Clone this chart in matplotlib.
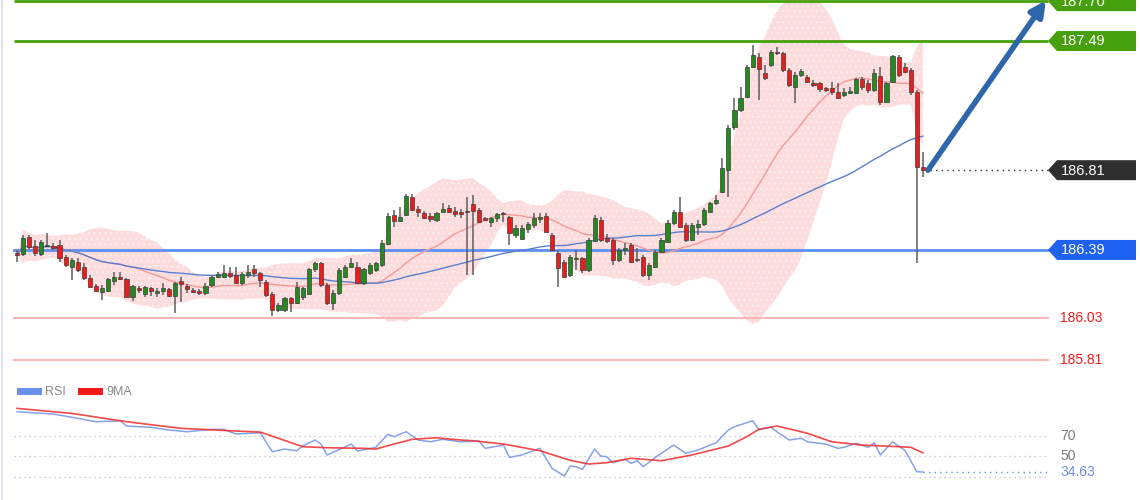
import numpy as np
import pandas as pd
import matplotlib
matplotlib.use("Agg")
import matplotlib.pyplot as plt
from matplotlib.patches import Polygon
from matplotlib.lines import Line2D

plt.rcParams["font.family"] = ["Liberation Sans", "DejaVu Sans"]
plt.rcParams["hatch.linewidth"] = 0.45

# ---- price candles (one per bar, oldest first) ----
opens = [
    186.374, 186.369, 186.459, 186.411, 186.369, 186.411, 186.411, 186.417, 186.353, 186.301,
    186.327, 186.301, 186.243, 186.201, 186.169, 186.174, 186.227, 186.248, 186.238, 186.143,
    186.190, 186.159, 186.190, 186.164, 186.174, 186.185, 186.148, 186.227, 186.201, 186.180,
    186.174, 186.164, 186.206, 186.248, 186.248, 186.269, 186.259, 186.217, 186.259, 186.290,
    186.269, 186.222, 186.159, 186.074, 186.074, 186.138, 186.111, 186.143, 186.159, 186.290,
    186.322, 186.206, 186.111, 186.164, 186.248, 186.301, 186.301, 186.217, 186.269, 186.285,
    186.311, 186.422, 186.574, 186.543, 186.574, 186.669, 186.606, 186.585, 186.569, 186.548,
    186.590, 186.611, 186.596, 186.590, 186.596, 186.632, 186.601, 186.559, 186.538, 186.559,
    186.585, 186.564, 186.469, 186.448, 186.501, 186.522, 186.553, 186.569, 186.469, 186.374,
    186.327, 186.259, 186.343, 186.348, 186.285, 186.438, 186.548, 186.453, 186.443, 186.338,
    186.390, 186.417, 186.343, 186.353, 186.259, 186.301, 186.380, 186.432, 186.532, 186.590,
    186.522, 186.443, 186.511, 186.527, 186.590, 186.638, 186.695, 186.811, 187.038, 187.127,
    187.196, 187.353, 187.406, 187.322, 187.364, 187.432, 187.427, 187.338, 187.248, 187.311,
    187.301, 187.269, 187.269, 187.243, 187.243, 187.222, 187.206, 187.217, 187.217, 187.290,
    187.269, 187.232, 187.306, 187.169, 187.274, 187.406, 187.353, 187.338, 187.222, 186.827,
]
highs = [
    186.390, 186.469, 186.469, 186.443, 186.443, 186.480, 186.427, 186.443, 186.364, 186.348,
    186.348, 186.322, 186.259, 186.211, 186.206, 186.243, 186.274, 186.274, 186.243, 186.206,
    186.201, 186.201, 186.196, 186.190, 186.217, 186.190, 186.222, 186.248, 186.211, 186.190,
    186.185, 186.217, 186.259, 186.274, 186.311, 186.301, 186.301, 186.274, 186.311, 186.311,
    186.274, 186.232, 186.169, 186.111, 186.143, 186.143, 186.222, 186.196, 186.296, 186.327,
    186.327, 186.217, 186.180, 186.296, 186.311, 186.348, 186.327, 186.296, 186.322, 186.327,
    186.443, 186.585, 186.601, 186.617, 186.685, 186.685, 186.622, 186.596, 186.585, 186.590,
    186.638, 186.627, 186.617, 186.606, 186.669, 186.680, 186.611, 186.564, 186.564, 186.585,
    186.590, 186.569, 186.522, 186.522, 186.538, 186.585, 186.585, 186.585, 186.480, 186.390,
    186.338, 186.364, 186.390, 186.353, 186.453, 186.574, 186.564, 186.474, 186.453, 186.401,
    186.427, 186.427, 186.401, 186.364, 186.322, 186.390, 186.453, 186.548, 186.601, 186.669,
    186.532, 186.532, 186.548, 186.611, 186.643, 186.680, 186.874, 187.048, 187.190, 187.248,
    187.364, 187.469, 187.427, 187.364, 187.443, 187.459, 187.432, 187.348, 187.327, 187.343,
    187.311, 187.285, 187.274, 187.248, 187.274, 187.269, 187.243, 187.248, 187.296, 187.301,
    187.285, 187.343, 187.353, 187.274, 187.417, 187.417, 187.374, 187.348, 187.232, 186.906,
]
lows = [
    186.327, 186.359, 186.396, 186.359, 186.359, 186.406, 186.390, 186.327, 186.301, 186.232,
    186.274, 186.232, 186.190, 186.169, 186.127, 186.169, 186.206, 186.232, 186.138, 186.122,
    186.164, 186.143, 186.148, 186.143, 186.153, 186.143, 186.059, 186.117, 186.164, 186.164,
    186.153, 186.153, 186.196, 186.243, 186.243, 186.243, 186.211, 186.206, 186.243, 186.248,
    186.196, 186.143, 186.043, 186.064, 186.064, 186.064, 186.106, 186.127, 186.153, 186.274,
    186.196, 186.101, 186.074, 186.153, 186.243, 186.296, 186.211, 186.206, 186.259, 186.274,
    186.301, 186.417, 186.511, 186.538, 186.569, 186.596, 186.564, 186.553, 186.538, 186.538,
    186.585, 186.585, 186.564, 186.559, 186.259, 186.259, 186.532, 186.543, 186.511, 186.538,
    186.538, 186.417, 186.453, 186.443, 186.480, 186.506, 186.532, 186.480, 186.385, 186.196,
    186.243, 186.248, 186.285, 186.269, 186.274, 186.432, 186.432, 186.427, 186.311, 186.327,
    186.364, 186.322, 186.327, 186.248, 186.232, 186.296, 186.374, 186.427, 186.522, 186.506,
    186.432, 186.438, 186.469, 186.517, 186.585, 186.627, 186.690, 186.669, 187.022, 187.117,
    187.190, 187.348, 187.180, 187.285, 187.353, 187.417, 187.327, 187.248, 187.164, 187.301,
    187.269, 187.248, 187.222, 187.222, 187.206, 187.185, 187.196, 187.211, 187.211, 187.232,
    187.217, 187.222, 187.153, 187.164, 187.269, 187.301, 187.322, 187.206, 186.322, 186.774,
]
closes = [
    186.364, 186.453, 186.406, 186.374, 186.432, 186.417, 186.401, 186.348, 186.311, 186.338,
    186.285, 186.243, 186.196, 186.174, 186.190, 186.238, 186.248, 186.238, 186.143, 186.201,
    186.180, 186.196, 186.174, 186.174, 186.190, 186.148, 186.217, 186.211, 186.185, 186.169,
    186.164, 186.201, 186.248, 186.264, 186.269, 186.253, 186.217, 186.264, 186.274, 186.269,
    186.232, 186.153, 186.074, 186.101, 186.138, 186.111, 186.196, 186.190, 186.290, 186.322,
    186.206, 186.111, 186.164, 186.285, 186.301, 186.322, 186.217, 186.290, 186.311, 186.322,
    186.427, 186.569, 186.543, 186.564, 186.674, 186.601, 186.590, 186.559, 186.553, 186.585,
    186.606, 186.590, 186.580, 186.580, 186.590, 186.596, 186.538, 186.548, 186.559, 186.580,
    186.580, 186.480, 186.506, 186.506, 186.527, 186.559, 186.564, 186.485, 186.390, 186.296,
    186.248, 186.353, 186.348, 186.285, 186.443, 186.559, 186.443, 186.438, 186.338, 186.390,
    186.401, 186.327, 186.338, 186.259, 186.311, 186.380, 186.443, 186.532, 186.590, 186.511,
    186.443, 186.522, 186.527, 186.601, 186.638, 186.653, 186.822, 187.032, 187.127, 187.190,
    187.353, 187.417, 187.343, 187.296, 187.432, 187.427, 187.338, 187.259, 187.311, 187.332,
    187.274, 187.259, 187.238, 187.232, 187.222, 187.190, 187.222, 187.227, 187.290, 187.248,
    187.232, 187.322, 187.169, 187.269, 187.411, 187.311, 187.327, 187.222, 186.827, 186.810,
]

# ---- key levels ----
resistance = [187.70, 187.49]
pivot = 186.39
supports = [186.03, 185.81]
last_price = 186.81

# ---- RSI panel (read at bar positions) ----
rsi_bar = [0, 6, 9, 13, 17, 18, 22, 25, 28, 32, 34, 36, 40, 42, 44, 46, 47, 49, 50, 51,
           55, 56, 59, 61, 62, 64, 66, 68, 70, 73, 76, 77, 80, 81, 83, 86, 88, 90, 91, 92,
           93, 95, 96, 97, 98, 100, 101, 102, 103, 105, 108, 110, 112, 114, 115, 117, 118,
           121, 122, 124, 125, 127, 129, 130, 133, 135, 136, 138, 140, 141, 142, 144, 145,
           146, 148, 149]
rsi_val = [93.4, 91.2, 88.0, 83.7, 84.6, 79.5, 78.2, 75.6, 73.9, 76.2, 76.2, 71.7, 72.9,
           54.4, 57.0, 55.4, 60.0, 65.8, 61.9, 51.2, 61.9, 55.1, 58.7, 71.4, 69.0, 73.9,
           65.8, 64.1, 66.5, 64.1, 64.8, 57.7, 60.9, 48.9, 51.2, 57.7, 38.2, 30.7, 40.4,
           39.8, 37.2, 57.0, 50.2, 49.5, 43.7, 47.0, 43.1, 45.6, 39.8, 48.9, 60.9, 52.8,
           56.0, 60.9, 63.2, 75.6, 78.8, 84.6, 76.2, 78.2, 73.9, 65.8, 67.5, 64.1, 61.9,
           57.7, 58.7, 62.6, 58.7, 63.2, 51.2, 64.1, 60.0, 56.0, 34.9, 34.63]
ma9_bar = [0, 9, 18, 27, 36, 40, 43, 47, 51, 57, 59, 62, 65, 69, 73, 75, 80, 86, 91, 94,
           97, 101, 106, 111, 117, 120, 122, 125, 130, 134, 139, 145, 147, 149]
ma9_val = [96.7, 91.8, 83.7, 77.2, 74.6, 73.6, 67.5, 59.3, 58.3, 57.7, 57.0, 61.9, 66.5,
           68.0, 65.8, 65.1, 61.9, 55.4, 46.0, 42.4, 43.7, 48.0, 45.6, 51.2, 60.0, 69.0,
           76.2, 79.5, 72.4, 64.1, 60.9, 59.3, 58.7, 53.4]
rsi_levels = [70, 50, 30]

df = pd.DataFrame({"o": opens, "h": highs, "l": lows, "c": closes})
bars = np.arange(len(df))
mid = df["c"].rolling(20, min_periods=1).mean()
sd = df["c"].rolling(20, min_periods=1).std(ddof=0)
upper, lower = mid + 2 * sd, mid - 2 * sd
ma50 = df["c"].rolling(50, min_periods=1).mean()

W, H = 1140, 500
STEP = 6.08      # px per bar
X0 = 17          # px of first bar
xlim = (-X0 / STEP, (W - X0) / STEP)
px = lambda p: (p - X0) / STEP   # pixel x -> bar units

GREEN = "#46a00c"
BLUE_LVL = "#5c8ff0"

fig = plt.figure(figsize=(W / 100, H / 100), dpi=100)
ax = fig.add_axes([0, 130 / H, 1, 370 / H])
ax.set_xlim(xlim)
ax.set_ylim(185.758, 187.706)
ax.axis("off")

# bollinger band
ax.fill_between(bars, lower, upper, facecolor="#fcdcdc", edgecolor="#fff4f4",
                hatch="...", lw=0, zorder=1)
ax.plot(bars, mid, color="#f49a9a", lw=1, zorder=2)
ax.plot(bars, ma50, color="#5a7fd0", lw=1, zorder=2)

# level lines
for lv in resistance:
    ax.plot([px(14), px(1048)], [lv, lv], color=GREEN, lw=2, zorder=4, solid_capstyle="butt")
ax.plot([px(14), px(1048)], [pivot, pivot], color=BLUE_LVL, lw=2, zorder=1.5)
for lv in supports:
    ax.plot([px(14), px(1048)], [lv, lv], color="#f8b8b8", lw=1.5, zorder=1.5)
    ax.text(px(1060), lv, f"{lv:.2f}", color="#f01c1c", fontsize=10, va="center", ha="left")

# candles
up = df["c"] >= df["o"]
ax.vlines(bars, df["l"], df["h"], color="#5e5e5e", lw=1.1, zorder=3)
body_lo = np.minimum(df["o"], df["c"])
body_h = np.maximum((df["c"] - df["o"]).abs(), 0.006)
ax.bar(bars, body_h, bottom=body_lo, width=0.68,
       color=np.where(up, "#24891f", "#ec1c1c"), edgecolor="#3d3d3d", lw=0.5, zorder=3.5)

# last price dotted line
ax.plot([px(930), px(1048)], [last_price, last_price], color="#333333", lw=1,
        ls=(0, (1, 3)), zorder=4)

# price tags
def tag(y, text, color):
    hh = 10 / 190
    pts = [(px(1048), y), (px(1057), y + hh), (px(1136), y + hh),
           (px(1136), y - hh), (px(1057), y - hh)]
    ax.add_patch(Polygon(pts, closed=True, facecolor=color, edgecolor="none", zorder=6))
    ax.text(px(1061), y - 0.002, text, color="white", fontsize=10.5, va="center",
            ha="left", zorder=7)

for lv in resistance:
    tag(lv, f"{lv:.2f}", GREEN)
tag(last_price, f"{last_price:.2f}", "#2f2f2f")
tag(pivot, f"{pivot:.2f}", "#1f62f2")

# projection arrow
ax.annotate("", xy=(px(1046), 187.704), xytext=(px(928), last_price),
            arrowprops=dict(arrowstyle="-|>,head_length=0.9,head_width=0.45",
                            color="#2f66aa", lw=4, shrinkA=0, shrinkB=0), zorder=8)

# ---- RSI panel ----
rx = fig.add_axes([0, 0, 1, 115 / H])
rx.set_xlim(xlim)
rx.set_ylim(7.3, 119.5)
rx.axis("off")
for lv in rsi_levels:
    rx.plot([px(14), px(1048)], [lv, lv], color="#b8bcc8", lw=0.9, ls=(0, (1, 3)))
for lv in rsi_levels[:2]:
    rx.text(px(1060), lv, str(lv), color="#7a7a7a", fontsize=10, va="center", ha="left")
rx.plot(rsi_bar, rsi_val, color="#86a2ea", lw=1.1, zorder=3)
rx.plot(ma9_bar, ma9_val, color="#f22a2a", lw=1.2, alpha=0.85, zorder=4)
rx.plot([rsi_bar[-1], px(1048)], [rsi_val[-1], rsi_val[-1]], color="#6f8fe6", lw=1,
        ls=(0, (1, 3)))
rx.text(px(1060), rsi_val[-1], f"{rsi_val[-1]:.2f}", color="#6f8fe6", fontsize=10,
        va="center", ha="left")

handles = [Line2D([], [], color="#6a8fe8", lw=5), Line2D([], [], color="#f01818", lw=5)]
fig.legend(handles, ["RSI", "9MA"], loc="center left", bbox_to_anchor=(0.008, 108 / H),
           ncol=2, frameon=False, fontsize=9, handlelength=1.4, handletextpad=0.6,
           columnspacing=1.2, labelcolor="#8a8a8a")

# faint left border
fig.add_artist(Line2D([1.5 / W, 1.5 / W], [0, 1], color="#dfe4ec", lw=1.5))

fig.savefig("out.png", dpi=100, facecolor="white")
